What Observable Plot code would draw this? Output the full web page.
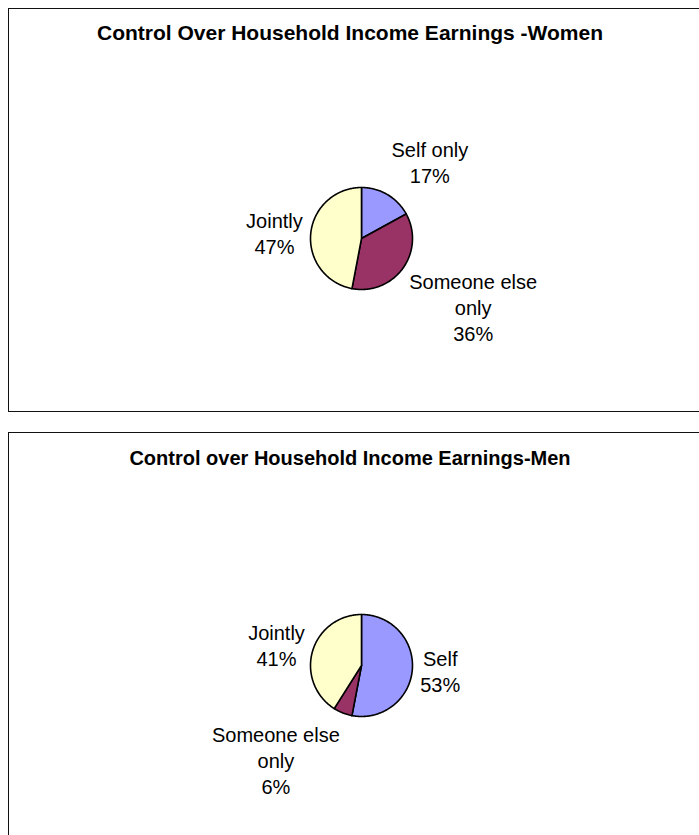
<!DOCTYPE html>
<html>
<head>
<meta charset="utf-8">
<script src="https://cdn.jsdelivr.net/npm/d3@7"></script>
<script src="https://cdn.jsdelivr.net/npm/@observablehq/plot@0.6"></script>
<style>
  html, body { margin: 0; padding: 0; background: #fff; }
  body { position: relative; width: 699px; height: 835px; overflow: hidden;
         font-family: "Liberation Sans", Arial, Helvetica, sans-serif; }
  .panel { position: absolute; left: 8px; width: 740px; border: 1.6px solid #111;
           box-sizing: border-box; background: #fff; }
  .title { position: absolute; left: 0; width: 700px; text-align: center; font-weight: bold;
           line-height: 24px; color: #000; white-space: nowrap; }
  .chart { position: absolute; left: 0; }
</style>
</head>
<body>
<div class="panel" id="p1" style="top:8px;height:404px"></div>
<div class="panel" id="p2" style="top:432px;height:420px"></div>
<div class="title" style="top:21px;font-size:21px">Control Over Household Income Earnings -Women</div>
<div class="title" style="top:446px;font-size:20px">Control over Household Income Earnings-Men</div>
<div class="chart" id="c1" style="top:8px"></div>
<div class="chart" id="c2" style="top:432px"></div>
<script>
// ---- data ----
const womenCategories = ["Self only", "Someone else only", "Jointly"];
const womenValues = [17, 36, 47];
const womenLabels = ["Self only\n17%", "Someone else\nonly\n36%", "Jointly\n47%"];

const menCategories = ["Self", "Someone else only", "Jointly"];
const menValues = [53, 6, 41];
const menLabels = ["Self\n53%", "Someone else\nonly\n6%", "Jointly\n41%"];

const sliceColors = ["#9999FF", "#993366", "#FFFFCC"];

// ---- drawing ----
const FONT = "Liberation Sans, Arial, sans-serif";
const LABEL_SIZE = 20;
const LINE_H = 1.3;
const ctx = document.createElement("canvas").getContext("2d");
ctx.font = `${LABEL_SIZE}px "Liberation Sans", Arial, sans-serif`;

function pieChart(el, categories, values, labels, opts) {
  const {width, height, cx, cy, r} = opts;
  const table = categories.map((c, i) => ({key: c, value: values[i], label: labels[i]}));
  const arcs = d3.pie().sort(null).value(d => d.value).startAngle(0).endAngle(2 * Math.PI)(table);

  // slice outlines (data units = pixels, origin at pie centre, y up)
  const pts = [];
  for (const a of arcs) {
    const n = Math.max(2, Math.ceil((a.endAngle - a.startAngle) / (Math.PI / 180)));
    pts.push({key: a.data.key, x: 0, y: 0});
    for (let k = 0; k <= n; k++) {
      const t = a.startAngle + (a.endAngle - a.startAngle) * k / n;
      pts.push({key: a.data.key, x: r * Math.sin(t), y: r * Math.cos(t)});
    }
  }

  // label placement outside the slice, around its mid angle
  const gap = 8;
  const lab = arcs.map(a => {
    const m = (a.startAngle + a.endAngle) / 2;
    const ux = Math.sin(m), uy = Math.cos(m);
    const lines = a.data.label.split("\n");
    const w = d3.max(lines, s => ctx.measureText(s).width) / 2;
    const h = lines.length * LABEL_SIZE * LINE_H / 2;
    const R = r + gap;
    const fy = Math.max(0, Math.min(1, (Math.abs(uy) - 0.2) / 0.45));
    return {
      text: a.data.label,
      x: R * ux + w * Math.sign(ux),
      y: R * uy + h * Math.sign(uy) * fy
    };
  });

  const plot = Plot.plot({
    width, height,
    margin: 0,
    x: {domain: [-cx, width - cx], range: [0, width], axis: null},
    y: {domain: [-(height - cy), cy], range: [height, 0], axis: null},
    color: {domain: categories, range: sliceColors},
    style: {fontFamily: FONT, background: "transparent", overflow: "visible"},
    marks: [
      Plot.line(pts, {x: "x", y: "y", z: "key", fill: "key", stroke: "#000",
                      strokeWidth: 1.6, curve: "linear-closed", strokeLinejoin: "round"}),
      Plot.text(lab, {x: "x", y: "y", text: "text", fontSize: LABEL_SIZE,
                      lineHeight: LINE_H, fill: "#000", textAnchor: "middle"})
    ]
  });
  document.getElementById(el).appendChild(plot);
}

pieChart("c1", womenCategories, womenValues, womenLabels,
         {width: 699, height: 403, cx: 361, cy: 230, r: 51});
pieChart("c2", menCategories, menValues, menLabels,
         {width: 699, height: 403, cx: 361, cy: 233, r: 51});
</script>
</body>
</html>
